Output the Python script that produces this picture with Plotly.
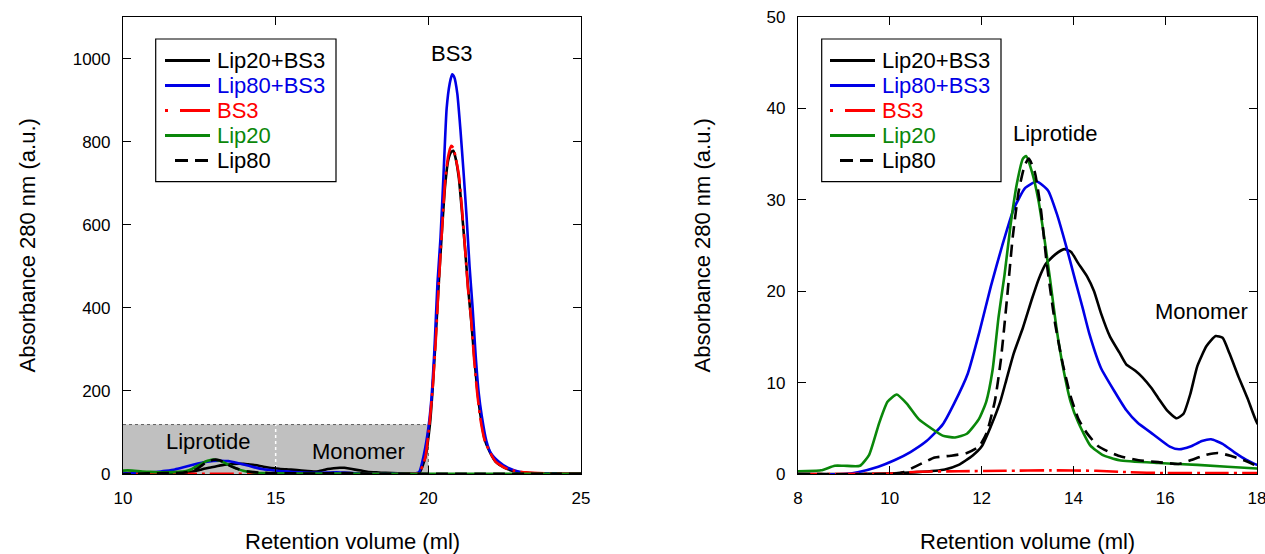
import plotly.graph_objects as go

# ---- Chromatogram data: retention volume (ml) vs absorbance at 280 nm (a.u.) ----
lip20_bs3_vol = [8.0, 9.0, 10.0, 10.6, 11.2, 11.5, 11.8, 12.0, 12.2, 12.4, 12.55, 12.7, 12.9, 13.1, 13.25,
                 13.4, 13.6, 13.8, 13.95, 14.1, 14.3, 14.45, 14.6, 14.8, 15.0, 15.15, 15.35, 15.5, 15.7, 15.85,
                 16.05, 16.25, 16.4, 16.55, 16.7, 16.9, 17.1, 17.25, 17.4, 17.6, 17.8, 18.0, 18.3, 18.6, 19.0,
                 19.4, 19.7, 19.9, 20.05, 20.15, 20.25, 20.35, 20.45, 20.55, 20.65, 20.75, 20.82, 20.9, 21.0, 21.1,
                 21.2, 21.3, 21.4, 21.5, 21.6, 21.7, 21.85, 22.0, 22.2, 22.5, 22.8, 23.2, 24.0, 25.0]
lip20_bs3_abs = [0.0, 0.0, 0.05, 0.2, 0.5, 1.0, 2.0, 3.0, 5.2, 7.8, 10.5, 13.2, 16.0, 19.2, 21.4,
                 23.0, 24.0, 24.6, 24.3, 23.1, 21.6, 20.0, 17.6, 15.0, 13.3, 12.0, 11.3, 10.6, 9.4, 8.3,
                 6.9, 6.1, 6.6, 8.8, 11.8, 14.0, 15.1, 14.9, 13.2, 10.6, 8.2, 5.6, 3.8, 2.6, 1.6,
                 1.0, 2.0, 40, 118, 215, 340, 470, 590, 695, 755, 775, 778, 758, 712, 632,
                 545, 450, 372, 285, 205, 145, 82, 55, 30, 15, 7, 3, 1.0, 0.5]

lip80_bs3_vol = [8.0, 9.0, 9.3, 9.75, 10.1, 10.45, 10.8, 11.15, 11.4, 11.7, 11.95, 12.2, 12.45, 12.7, 12.95,
                 13.2, 13.45, 13.65, 13.85, 14.05, 14.2, 14.35, 14.6, 14.9, 15.15, 15.4, 15.75, 16.1, 16.3, 16.55,
                 16.8, 17.0, 17.25, 17.5, 17.75, 18.0, 18.5, 19.0, 19.5, 19.7, 19.85, 20.0, 20.1, 20.2, 20.3,
                 20.4, 20.5, 20.6, 20.7, 20.78, 20.85, 20.95, 21.05, 21.15, 21.25, 21.35, 21.45, 21.55, 21.65, 21.75,
                 21.9, 22.05, 22.3, 22.6, 23.0, 23.5, 24.0, 25.0]
lip80_bs3_abs = [0.0, 0.0, 0.2, 0.8, 1.5, 2.4, 3.6, 5.4, 7.7, 11.0, 15.5, 20.5, 25.0, 29.0, 31.3,
                 32.0, 31.0, 28.3, 24.8, 21.0, 18.2, 15.3, 11.6, 9.0, 7.0, 5.6, 4.3, 3.0, 2.7, 3.0,
                 3.6, 3.8, 3.3, 2.4, 1.6, 1.0, 0.6, 0.4, 0.5, 5, 45, 110, 180, 300, 460,
                 570, 725, 880, 940, 962, 955, 915, 830, 730, 622, 500, 400, 285, 195, 140,
                 80, 50, 30, 15, 5, 1.0, 0.5, 0.3]

bs3_vol = [8.0, 10.0, 10.6, 11.5, 12.5, 13.5, 14.5, 15.2, 16.0, 17.0, 18.0, 19.0, 19.5, 19.7, 19.9,
           20.05, 20.15, 20.25, 20.35, 20.45, 20.55, 20.65, 20.75, 20.82, 20.9, 21.0, 21.1, 21.2, 21.3, 21.4,
           21.5, 21.6, 21.7, 21.85, 22.0, 22.2, 22.5, 22.8, 23.2, 24.0, 25.0]
bs3_abs = [0.0, 0.05, 0.25, 0.3, 0.35, 0.4, 0.35, 0.2, 0.1, 0.1, 0.1, 0.1, 0.3, 2, 40,
           130, 215, 330, 470, 590, 705, 765, 790, 785, 760, 720, 640, 545, 445, 375,
           275, 195, 135, 80, 55, 30, 15, 8, 4, 1.0, 0.5]

lip20_vol = [8.0, 8.5, 8.8, 9.0, 9.35, 9.55, 9.77, 9.95, 10.15, 10.37, 10.63, 10.9, 11.15, 11.42, 11.68,
             11.94, 12.1, 12.24, 12.37, 12.5, 12.63, 12.77, 12.9, 12.97, 13.1, 13.24, 13.37, 13.5, 13.63, 13.77,
             13.94, 14.11, 14.37, 14.63, 15.0, 15.85, 16.7, 18.0, 19.0, 20.0, 25.0]
lip20_abs = [0.3, 0.4, 0.9, 0.9, 0.9, 2.1, 5.6, 7.9, 8.7, 7.7, 6.0, 5.0, 4.2, 4.0, 4.4,
             6.0, 7.9, 11.4, 17.2, 21.8, 27.2, 31.8, 34.5, 34.8, 33.0, 29.9, 25.7, 21.0, 16.0, 11.8,
             7.9, 5.6, 3.1, 2.1, 1.5, 1.2, 1.0, 0.6, 0.4, 0.3, 0.2]

lip80_vol = [8.0, 10.0, 10.3, 10.63, 10.98, 11.33, 11.68, 11.94, 12.11, 12.29, 12.42, 12.55, 12.68, 12.81, 12.94,
             13.03, 13.16, 13.29, 13.42, 13.6, 13.77, 13.94, 14.11, 14.29, 14.55, 14.98, 15.42, 15.85, 16.29, 16.55,
             16.9, 17.15, 17.42, 17.77, 18.0, 18.5, 19.0, 20.0, 25.0]
lip80_abs = [0.0, 0.0, 0.2, 1.0, 1.8, 2.0, 2.3, 3.0, 4.5, 8.0, 12.5, 19.0, 26.0, 31.0, 33.8,
             34.5, 33.0, 29.0, 23.0, 16.5, 12.0, 8.5, 6.0, 4.5, 3.0, 2.0, 1.5, 1.3, 1.1, 1.5,
             2.1, 2.3, 2.0, 1.4, 0.9, 0.6, 0.4, 0.3, 0.2]

series_names = ["Lip20+BS3", "Lip80+BS3", "BS3", "Lip20", "Lip80"]
series_colors = ["#000000", "#0000e6", "#ff0000", "#0a870a", "#000000"]
series_dashes = ["solid", "solid", "24px,5px,3px,5px", "solid", "12px,7px"]
series_data = [(lip20_bs3_vol, lip20_bs3_abs), (lip80_bs3_vol, lip80_bs3_abs), (bs3_vol, bs3_abs),
               (lip20_vol, lip20_abs), (lip80_vol, lip80_abs)]

W, H = 1265, 554
FONT = "Arial, Liberation Sans, sans-serif"


def px(x):
    return x / W


def py(y):
    return 1 - y / H


fig = go.Figure()

for (vol, ab), name, color, dash in zip(series_data, series_names, series_colors, series_dashes):
    for xa, ya in (("x", "y"), ("x2", "y2")):
        fig.add_trace(go.Scatter(
            x=vol, y=ab, mode="lines", name=name, showlegend=False,
            line=dict(color=color, width=2.6, dash=dash, shape="spline", smoothing=0.5),
            xaxis=xa, yaxis=ya,
        ))

axis_common = dict(
    showline=True, linecolor="black", linewidth=1.2, mirror="ticks",
    ticks="inside", ticklen=8, tickwidth=1, tickcolor="black",
    showgrid=False, zeroline=False,
    tickfont=dict(family=FONT, size=17, color="black"),
    ticklabelstandoff=8, ticklabeloverflow="allow", automargin=False,
)

fig.update_layout(
    width=W, height=H, margin=dict(l=0, r=0, t=0, b=0),
    paper_bgcolor="white", plot_bgcolor="white",
    xaxis=dict(domain=[px(123), px(581)], range=[10, 25], tickvals=[10, 15, 20, 25],
               anchor="y", **axis_common),
    yaxis=dict(domain=[py(474), py(17)], range=[0, 1100], tickvals=[0, 200, 400, 600, 800, 1000],
               anchor="x", **axis_common),
    xaxis2=dict(domain=[px(798), px(1257)], range=[8, 18], tickvals=[8, 10, 12, 14, 16, 18],
                anchor="y2", **axis_common),
    yaxis2=dict(domain=[py(474), py(17)], range=[0, 50], tickvals=[0, 10, 20, 30, 40, 50],
                anchor="x2", **axis_common),
)

shapes = []
annotations = []

# Shaded fraction window (liprotide + monomer region) on the full-range panel
shapes.append(dict(type="rect", xref="x", yref="y", x0=10, x1=20, y0=0, y1=119,
                   fillcolor="#c0c0c0", line=dict(width=0), layer="below"))
shapes.append(dict(type="line", xref="x", yref="y", x0=10, x1=20, y0=119, y1=119,
                   line=dict(color="#606060", width=1, dash="dot"), layer="below"))
shapes.append(dict(type="line", xref="x", yref="y", x0=20, x1=20, y0=0, y1=119,
                   line=dict(color="#606060", width=1, dash="dot"), layer="below"))
shapes.append(dict(type="line", xref="x", yref="y", x0=15, x1=15, y0=0, y1=119,
                   line=dict(color="white", width=1.5, dash="dot"), layer="below"))

label_font = dict(family=FONT, size=22, color="black")
for txt, xr, yr, xv, yv in [("BS3", "x", "y", 20.79, 1013), ("Liprotide", "x", "y", 12.8, 79),
                            ("Monomer", "x", "y", 17.7, 55), ("Liprotide", "x2", "y2", 13.6, 37.2),
                            ("Monomer", "x2", "y2", 16.8, 17.8)]:
    annotations.append(dict(text=txt, xref=xr, yref=yr, x=xv, y=yv, showarrow=False,
                            xanchor="center", yanchor="middle", font=label_font))

# Axis titles
title_font = dict(family=FONT, size=22, color="black")
for cx in ((123 + 581) / 2, (798 + 1257) / 2):
    annotations.append(dict(text="Retention volume (ml)", xref="paper", yref="paper",
                            x=px(cx), y=py(541), showarrow=False, xanchor="center",
                            yanchor="middle", font=title_font))
for cx in (27, 702):
    annotations.append(dict(text="Absorbance 280 nm (a.u.)", xref="paper", yref="paper",
                            x=px(cx), y=py(245.5), showarrow=False, textangle=-90,
                            xanchor="center", yanchor="middle", font=title_font))

# Legend boxes drawn in page coordinates
row_y = [60.5, 85.5, 110.5, 135.5, 160.5]
for box_x0, box_x1, line_x0 in ((155.7, 336, 165), (821.7, 1001, 830)):
    shapes.append(dict(type="rect", xref="paper", yref="paper",
                       x0=px(box_x0), x1=px(box_x1), y0=py(181.7), y1=py(39),
                       fillcolor="white", line=dict(color="black", width=1.2), layer="above"))
    line_x1 = line_x0 + 45
    for i, (name, color, dash) in enumerate(zip(series_names, series_colors, series_dashes)):
        yy = py(row_y[i])
        if name == "BS3":
            shapes.append(dict(type="line", xref="paper", yref="paper", x0=px(line_x0), x1=px(line_x0 + 3),
                               y0=yy, y1=yy, line=dict(color=color, width=3), layer="above"))
            shapes.append(dict(type="line", xref="paper", yref="paper", x0=px(line_x0 + 15), x1=px(line_x1),
                               y0=yy, y1=yy, line=dict(color=color, width=3), layer="above"))
        elif name == "Lip80":
            shapes.append(dict(type="line", xref="paper", yref="paper", x0=px(line_x0 + 10), x1=px(line_x1),
                               y0=yy, y1=yy, line=dict(color=color, width=3, dash="13px,7px"),
                               layer="above"))
        else:
            shapes.append(dict(type="line", xref="paper", yref="paper", x0=px(line_x0), x1=px(line_x1),
                               y0=yy, y1=yy, line=dict(color=color, width=3), layer="above"))
        annotations.append(dict(text=name, xref="paper", yref="paper", x=px(line_x1 + 5), y=yy,
                                showarrow=False, xanchor="left", yanchor="middle",
                                font=dict(family=FONT, size=22, color=color)))

fig.update_layout(shapes=shapes, annotations=annotations)

fig.write_html("out.html")
